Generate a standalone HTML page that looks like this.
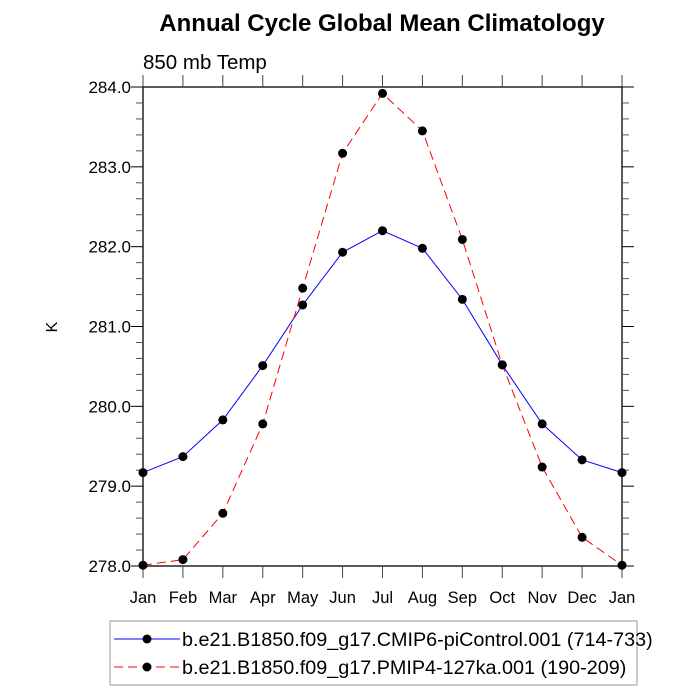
<!DOCTYPE html>
<html><head><meta charset="utf-8"><style>
html,body{margin:0;padding:0;background:#fff;}
svg{display:block;font-family:"Liberation Sans",sans-serif;}
</style></head><body>
<svg id="chart" width="700" height="700" viewBox="0 0 700 700">
<text x="382" y="31" font-size="24" font-weight="bold" text-anchor="middle">Annual Cycle Global Mean Climatology</text>
<text x="143" y="69" font-size="20.5">850 mb Temp</text>
<text x="57" y="327" font-size="16" text-anchor="middle" transform="rotate(-90 57 327)">K</text>
<g id="axes"></g>
<g id="series"></g>
<rect x="110" y="621" width="527" height="64" fill="none" stroke="#999" stroke-width="1"/>
<g>
<line x1="114" y1="639" x2="180" y2="639" stroke="#0000ff" stroke-width="1"/>
<circle cx="147" cy="639" r="4.5" fill="#000"/>
<text x="182" y="646" font-size="19.8">b.e21.B1850.f09_g17.CMIP6-piControl.001 (714-733)</text>
</g>
<g>
<line x1="114" y1="667" x2="180" y2="667" stroke="#ff0000" stroke-width="1" stroke-dasharray="9,5"/>
<circle cx="147" cy="667" r="4.5" fill="#000"/>
<text x="182" y="674" font-size="19.8">b.e21.B1850.f09_g17.PMIP4-127ka.001 (190-209)</text>
</g>
</svg>
<script>
const months = ["Jan","Feb","Mar","Apr","May","Jun","Jul","Aug","Sep","Oct","Nov","Dec","Jan"];
const piControl = [279.17,279.37,279.83,280.51,281.27,281.93,282.20,281.98,281.34,280.52,279.78,279.33,279.17];
const ka127 = [278.01,278.08,278.66,279.78,281.48,283.17,283.92,283.45,282.09,280.52,279.24,278.36,278.01];
const yTicks = [278,279,280,281,282,283,284];
const yTickLabels = ["278.0","279.0","280.0","281.0","282.0","283.0","284.0"];

const NS="http://www.w3.org/2000/svg";
const L=143,R=622,T=87,B=566,yMin=278,yMax=284;
function xs(i){return L+(R-L)*i/(months.length-1);}
function ys(v){return B-(v-yMin)/(yMax-yMin)*(B-T);}
function mk(tag,attrs,parent){const e=document.createElementNS(NS,tag);for(const k in attrs)e.setAttribute(k,attrs[k]);parent.appendChild(e);return e;}
const ax=document.getElementById('axes');
const frame=mk('rect',{x:L,y:T,width:R-L,height:B-T,fill:'none',stroke:'#000','stroke-width':1.3},ax);


months.forEach((m,i)=>{
  const x=xs(i);
  mk('line',{x1:x,y1:B,x2:x,y2:B+12,stroke:'#444','stroke-width':1},ax);
  mk('line',{x1:x,y1:T,x2:x,y2:T-12,stroke:'#444','stroke-width':1},ax);
  const t=mk('text',{x:x,y:B+37,'font-size':16.5,'text-anchor':'middle'},ax);
  t.textContent=m;
  
  
});
for(let v=yMin;v<=yMax+1e-9;v+=0.2){
  const y=ys(v);
  const major=Math.abs(v-Math.round(v))<1e-6;
  const len=major?12:7;
  mk('line',{x1:L,y1:y,x2:L-len,y2:y,stroke:major?'#000':'#555','stroke-width':1},ax);
  mk('line',{x1:R,y1:y,x2:R+len,y2:y,stroke:major?'#000':'#555','stroke-width':1},ax);
}
yTicks.forEach((v,i)=>{
  const t=mk('text',{x:L-12,y:ys(v)+6,'font-size':17,'text-anchor':'end'},ax);
  t.textContent=yTickLabels[i];
  
  
});
const sg=document.getElementById('series');
function draw(vals,color,dash,name){
  const g=mk('g',{},sg);
  
  
  const pts=vals.map((v,i)=>xs(i)+','+ys(v)).join(' ');
  const a={points:pts,fill:'none',stroke:color,'stroke-width':1};
  if(dash)a['stroke-dasharray']=dash;
  mk('polyline',a,g);
  vals.forEach((v,i)=>{
    const c=mk('circle',{cx:xs(i),cy:ys(v),r:4.5,fill:'#000'},g);
    
    
  });
}
draw(piControl,'#0000ff',null,'series-picontrol');
draw(ka127,'#ff0000','9,5','series-127ka');
</script>
</body></html>
